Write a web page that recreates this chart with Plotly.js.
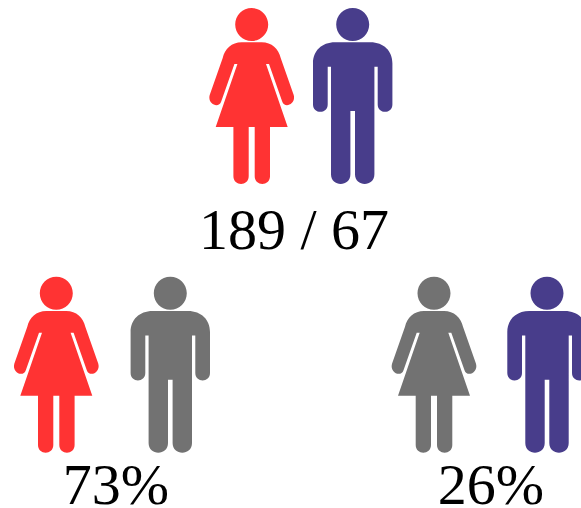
<!DOCTYPE html>
<html><head><meta charset="utf-8">
<script src="https://cdn.plot.ly/plotly-3.0.1.min.js"></script>
<style>html,body{margin:0;padding:0;background:#fff}</style></head>
<body><div id="chart" style="width:581px;height:508px"></div>
<script>
// Readings from the picture
const labels = ['189 / 67', '73%', '26%'];
const labelX = [294, 116, 491];
const labelY = [234, 489, 489];
const figureKinds = ['woman', 'man', 'woman', 'man', 'woman', 'man'];
const figureX = [251.7, 352.7, 56.3, 170.3, 434, 547];
const figureY = [8, 8, 276.7, 276.7, 276.7, 276.7];
const RED = '#ff3333', BLUE = '#483d8b', GREY = '#727272';
const figureColors = [RED, BLUE, RED, GREY, GREY, BLUE];

// Icon outlines, in px relative to the top centre of the head
const HEAD_R = 16.5;
const womanBody = 'M-10,34.3 L10,34.3 C20,34.3 27,41 29,50 L42,87 C44.5,96 33,101 30.5,93.5 L17.3,56 L14.3,56 L36,119 L18.3,119 L18.3,168.3 C18.3,178.5 3,178.5 3,168.3 L3,119 L-3,119 L-3,168.3 C-3,178.5 -18.3,178.5 -18.3,168.3 L-18.3,119 L-36,119 L-14.3,56 L-17.3,56 L-30.5,93.5 C-33,101 -44.5,96 -42,87 L-29,50 C-27,41 -20,34.3 -10,34.3 Z';
const manBody = 'M-17.7,34.3 L17.7,34.3 C31,34.3 39.7,43 39.7,55.3 L39.7,96.4 C39.7,106.2 25,106.2 25,96.4 L25,58.7 L21.7,58.7 L21.7,166.3 C21.7,179.2 2.3,179.2 2.3,166.3 L2.3,103 L-2.3,103 L-2.3,166.3 C-2.3,179.2 -21.7,179.2 -21.7,166.3 L-21.7,58.7 L-25,58.7 L-25,96.4 C-25,106.2 -39.7,106.2 -39.7,96.4 L-39.7,55.3 C-39.7,43 -31,34.3 -17.7,34.3 Z';

function place(path, ox, oy) {
  return path.replace(/(-?[\d.]+),(-?[\d.]+)/g, (m, a, b) => (+a + ox).toFixed(2) + ',' + (+b + oy).toFixed(2));
}
const k = 0.5523 * HEAD_R, r = HEAD_R;
const headPath = `M0,0 C${k},0 ${r},${r - k} ${r},${r} C${r},${r + k} ${k},${2 * r} 0,${2 * r} C${-k},${2 * r} ${-r},${r + k} ${-r},${r} C${-r},${r - k} ${-k},0 0,0 Z`;

const shapes = [];
figureKinds.forEach((kind, i) => {
  const d = place(headPath, figureX[i], figureY[i]) + ' ' +
            place(kind === 'woman' ? womanBody : manBody, figureX[i], figureY[i]);
  shapes.push({type: 'path', xref: 'x', yref: 'y', path: d,
    fillcolor: figureColors[i], line: {width: 0}, layer: 'above'});
});

Plotly.newPlot('chart', [{
  type: 'scatter', mode: 'text', x: labelX, y: labelY, text: labels,
  textposition: 'middle center', cliponaxis: false, hoverinfo: 'skip',
  textfont: {family: '"Liberation Serif", serif', size: 58, color: '#000'}
}], {
  width: 581, height: 508, showlegend: false,
  margin: {l: 0, r: 0, t: 0, b: 0},
  paper_bgcolor: '#fff', plot_bgcolor: '#fff',
  xaxis: {range: [0, 581], visible: false, fixedrange: true},
  yaxis: {range: [508, 0], visible: false, fixedrange: true},
  shapes: shapes
}, {displayModeBar: false, staticPlot: true});
</script></body></html>
